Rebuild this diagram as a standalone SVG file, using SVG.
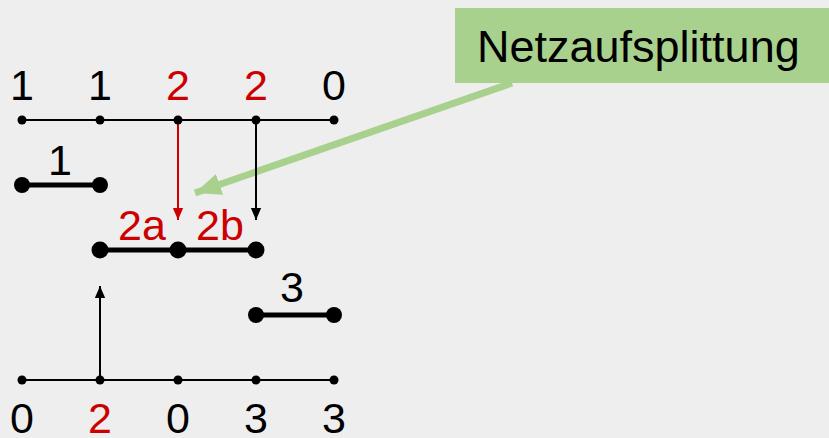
<svg xmlns="http://www.w3.org/2000/svg" width="829" height="438" viewBox="0 0 829 438">
<style>
.t{font-family:"Liberation Sans",Arial,sans-serif;font-size:43px;text-anchor:middle;fill:#000}
.r{fill:#cc0000}
.thin{stroke:#000;stroke-width:2;fill:none}
.thick{stroke:#000;stroke-width:5;fill:none}
.sd{fill:#000}
</style>
<defs>
<marker id="ab" markerUnits="userSpaceOnUse" markerWidth="12" markerHeight="16" refX="14" refY="6" viewBox="0 0 14 12" orient="auto"><path d="M0,0 L14,6 L0,12 Z" fill="#000"/></marker>
<marker id="ar" markerUnits="userSpaceOnUse" markerWidth="12" markerHeight="16" refX="14" refY="6" viewBox="0 0 14 12" orient="auto"><path d="M0,0 L14,6 L0,12 Z" fill="#cc0000"/></marker>
<marker id="ag" markerUnits="userSpaceOnUse" markerWidth="26" markerHeight="24" refX="26" refY="11" viewBox="0 0 26 22" orient="auto"><path d="M0,0 L26,11 L0,22 Z" fill="#a9d18e"/></marker>
</defs>
<rect width="829" height="438" fill="#eeeeee"/>
<g id="label">
<rect x="455" y="8" width="380" height="75" fill="#a9d18e"/>
<text x="477" y="62" font-family="'Liberation Sans',Arial,sans-serif" font-size="45" fill="#000">Netzaufsplittung</text>
</g>
<g id="connectors">
<line x1="512" y1="83" x2="195" y2="193" stroke="#a9d18e" stroke-width="7" marker-end="url(#ag)"/>
<line x1="178" y1="120" x2="178" y2="220" stroke="#cc0000" stroke-width="2" marker-end="url(#ar)"/>
<line x1="256" y1="120" x2="256" y2="220" stroke="#000" stroke-width="2" marker-end="url(#ab)"/>
<line x1="100" y1="380" x2="100" y2="286" stroke="#000" stroke-width="2" marker-end="url(#ab)"/>
</g>
<g id="top-net">
<line class="thin" x1="22" y1="120" x2="334" y2="120"/>
<circle class="sd" cx="22" cy="120" r="4.5"/><circle class="sd" cx="100" cy="120" r="4.5"/><circle class="sd" cx="178" cy="120" r="4.5"/><circle class="sd" cx="256" cy="120" r="4.5"/><circle class="sd" cx="334" cy="120" r="4.5"/>
<text class="t" x="22" y="100">1</text><text class="t" x="100" y="100">1</text><text class="t r" x="178" y="100">2</text><text class="t r" x="256" y="100">2</text><text class="t" x="334" y="100">0</text>
</g>
<g id="net-1">
<line class="thick" x1="22" y1="185" x2="100" y2="185"/>
<circle class="sd" cx="22" cy="185" r="8"/><circle class="sd" cx="100" cy="185" r="8"/>
<text class="t" x="60" y="175">1</text>
</g>
<g id="net-2">
<line class="thick" x1="100" y1="250" x2="256" y2="250"/>
<circle class="sd" cx="100" cy="250" r="8.5"/><circle class="sd" cx="178" cy="250" r="8.5"/><circle class="sd" cx="256" cy="250" r="8.5"/>
<text class="t r" x="142" y="240">2a</text><text class="t r" x="220" y="240">2b</text>
</g>
<g id="net-3">
<line class="thick" x1="256" y1="315" x2="334" y2="315"/>
<circle class="sd" cx="256" cy="315" r="8"/><circle class="sd" cx="334" cy="315" r="8"/>
<text class="t" x="292" y="302">3</text>
</g>
<g id="bottom-net">
<line class="thin" x1="22" y1="380" x2="334" y2="380"/>
<circle class="sd" cx="22" cy="380" r="4.5"/><circle class="sd" cx="100" cy="380" r="4.5"/><circle class="sd" cx="178" cy="380" r="4.5"/><circle class="sd" cx="256" cy="380" r="4.5"/><circle class="sd" cx="334" cy="380" r="4.5"/>
<text class="t" x="22" y="433">0</text><text class="t r" x="100" y="433">2</text><text class="t" x="178" y="433">0</text><text class="t" x="256" y="433">3</text><text class="t" x="334" y="433">3</text>
</g>
</svg>
